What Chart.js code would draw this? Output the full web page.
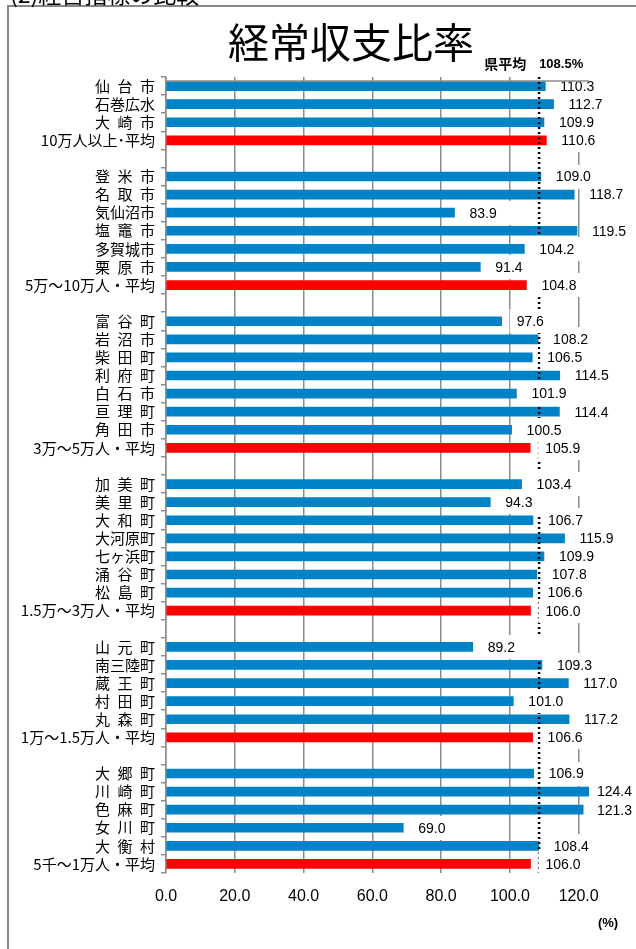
<!DOCTYPE html>
<html lang="ja">
<head>
<meta charset="utf-8">
<title>経常収支比率</title>
<script src="https://cdn.jsdelivr.net/npm/chart.js@4.4.1/dist/chart.umd.min.js"></script>
<style>
    html, body { margin: 0; padding: 0; background: #fff; }
    #chart { display: block; }
</style>
</head>
<body>
<canvas id="chart" width="636" height="949"></canvas>
<script>
// ---- data (blank strings / nulls are the gaps between size groups) ----
const categories = [
    '仙 台 市', '石巻広水', '大 崎 市', '10万人以上･平均',
    '',
    '登 米 市', '名 取 市', '気仙沼市', '塩 竈 市', '多賀城市', '栗 原 市', '5万～10万人・平均',
    '',
    '富 谷 町', '岩 沼 市', '柴 田 町', '利 府 町', '白 石 市', '亘 理 町', '角 田 市', '3万～5万人・平均',
    '',
    '加 美 町', '美 里 町', '大 和 町', '大河原町', '七ヶ浜町', '涌 谷 町', '松 島 町', '1.5万～3万人・平均',
    '',
    '山 元 町', '南三陸町', '蔵 王 町', '村 田 町', '丸 森 町', '1万～1.5万人・平均',
    '',
    '大 郷 町', '川 崎 町', '色 麻 町', '女 川 町', '大 衡 村', '5千～1万人・平均'
];

const values = [
    110.3, 112.7, 109.9, 110.6,
    null,
    109.0, 118.7, 83.9, 119.5, 104.2, 91.4, 104.8,
    null,
    97.6, 108.2, 106.5, 114.5, 101.9, 114.4, 100.5, 105.9,
    null,
    103.4, 94.3, 106.7, 115.9, 109.9, 107.8, 106.6, 106.0,
    null,
    89.2, 109.3, 117.0, 101.0, 117.2, 106.6,
    null,
    106.9, 124.4, 121.3, 69.0, 108.4, 106.0
];

const prefAverage = 108.5;           // 県平均
const xTicks = [0, 20, 40, 60, 80, 100, 120];

const BLUE = '#0083c6';
const RED = '#ff0000';
const GRID = '#8c8c8c';
const JP = '"Noto Sans CJK JP", "Noto Sans CJK SC", sans-serif';
const NUM = '"Liberation Sans", Arial, sans-serif';

const barColors = categories.map(c => c.includes('平均') ? RED : BLUE);
const displayLabels = categories.map(c => c.replace(/ /g, '\u2002'));

// dotted 県平均 line + boxed value labels
const overlayPlugin = {
    id: 'overlay',
    beforeDraw(chart) {
        const { ctx, width, height } = chart;
        ctx.save();
        ctx.fillStyle = '#fff';
        ctx.fillRect(0, 0, width, height);
        ctx.restore();
    },
    afterDatasetsDraw(chart) {
        const { ctx, chartArea, scales: { x } } = chart;
        const lx = x.getPixelForValue(prefAverage);

        ctx.save();
        ctx.strokeStyle = '#000';
        ctx.lineWidth = 2.5;
        ctx.setLineDash([2, 3]);
        ctx.beginPath();
        ctx.moveTo(lx, chartArea.top);
        ctx.lineTo(lx, chartArea.bottom);
        ctx.stroke();
        ctx.restore();

        // labels drawn bottom-up so upper boxes overlap lower ones
        const meta = chart.getDatasetMeta(0);
        ctx.save();
        ctx.font = '14px ' + NUM;
        ctx.textBaseline = 'middle';
        ctx.textAlign = 'left';
        for (let i = meta.data.length - 1; i >= 0; i--) {
            const v = values[i];
            if (v == null) continue;
            const bar = meta.data[i];
            const end = Math.min(bar.x, chartArea.right);
            const tx = Math.min(end + 15, chartArea.right + 8);
            const txt = v.toFixed(1);
            const w = ctx.measureText(txt).width;
            ctx.fillStyle = '#fff';
            ctx.fillRect(tx - 7, Math.round(bar.y - 12), w + 39, 24);
            ctx.fillStyle = '#000';
            ctx.fillText(txt, tx, bar.y + 1);
        }
        ctx.restore();
    },
    afterDraw(chart) {
        const { ctx, chartArea, scales: { x } } = chart;
        const lx = x.getPixelForValue(prefAverage);
        ctx.save();

        // top rule of the plot
        ctx.strokeStyle = GRID;
        ctx.lineWidth = 1.5;
        ctx.beginPath();
        ctx.moveTo(chartArea.left, chartArea.top + 4);
        ctx.lineTo(chartArea.right, chartArea.top + 4);
        ctx.stroke();

        // outer frame
        ctx.strokeStyle = '#898989';
        ctx.lineWidth = 2;
        ctx.beginPath();
        ctx.moveTo(8, chart.height + 2);
        ctx.lineTo(8, 6);
        ctx.lineTo(chart.width + 2, 6);
        ctx.stroke();

        ctx.fillStyle = '#000';
        ctx.textBaseline = 'alphabetic';
        ctx.textAlign = 'left';
        ctx.font = '23px ' + JP;
        ctx.fillText('(2)経営指標の比較', 10, 3);

        ctx.textAlign = 'center';
        ctx.textBaseline = 'middle';
        ctx.font = '41px ' + JP;
        ctx.fillText('経常収支比率', 351, 42);

        ctx.textAlign = 'right';
        ctx.font = 'bold 14px ' + JP;
        ctx.fillText('県平均', lx - 13, 64);
        ctx.textAlign = 'left';
        ctx.font = 'bold 13px ' + NUM;
        ctx.fillText(prefAverage.toFixed(1) + '%', lx, 64);

        ctx.textAlign = 'center';
        ctx.fillText('(%)', chartArea.right + 19, chartArea.bottom + 50);
        ctx.restore();
    }
};

new Chart(document.getElementById('chart'), {
    type: 'bar',
    data: {
        labels: displayLabels,
        datasets: [{
            data: values,
            backgroundColor: barColors,
            borderWidth: 0,
            barThickness: 9,
            clip: { left: 0, top: 0, right: 0, bottom: 0 },
        }]
    },
    options: {
        indexAxis: 'y',
        responsive: false,
        animation: false,
        layout: { padding: { left: 0, top: 77, right: 47, bottom: 36 } },
        plugins: {
            legend: { display: false },
            tooltip: { enabled: false },
            title: { display: false },
        },
        scales: {
            x: {
                type: 'linear',
                min: 0,
                max: 123,
                grid: { color: GRID, lineWidth: 1.5, drawTicks: false },
                border: { display: false },
                ticks: {
                    padding: 14,
                    color: '#000',
                    font: { family: NUM, size: 16 },
                    callback: v => Number(v).toFixed(1),
                },
                afterBuildTicks: scale => {
                    scale.ticks = xTicks.map(v => ({ value: v }));
                },
                afterFit: scale => {
                    scale.height = 40;
                    scale.paddingLeft = 0;
                    scale.paddingRight = 0;
                },
            },
            y: {
                type: 'category',
                grid: {
                    drawOnChartArea: false,
                    offset: true,
                    tickLength: 5,
                    color: GRID,
                    lineWidth: 1.5,
                },
                border: { color: GRID, width: 1.5 },
                ticks: {
                    autoSkip: false,
                    padding: 6,
                    color: '#000',
                    font: { family: JP, size: 15 },
                },
                afterFit: scale => {
                    scale.width = 166;
                    scale.paddingTop = 0;
                    scale.paddingBottom = 0;
                },
            }
        }
    },
    plugins: [overlayPlugin]
});
</script>
</body>
</html>
